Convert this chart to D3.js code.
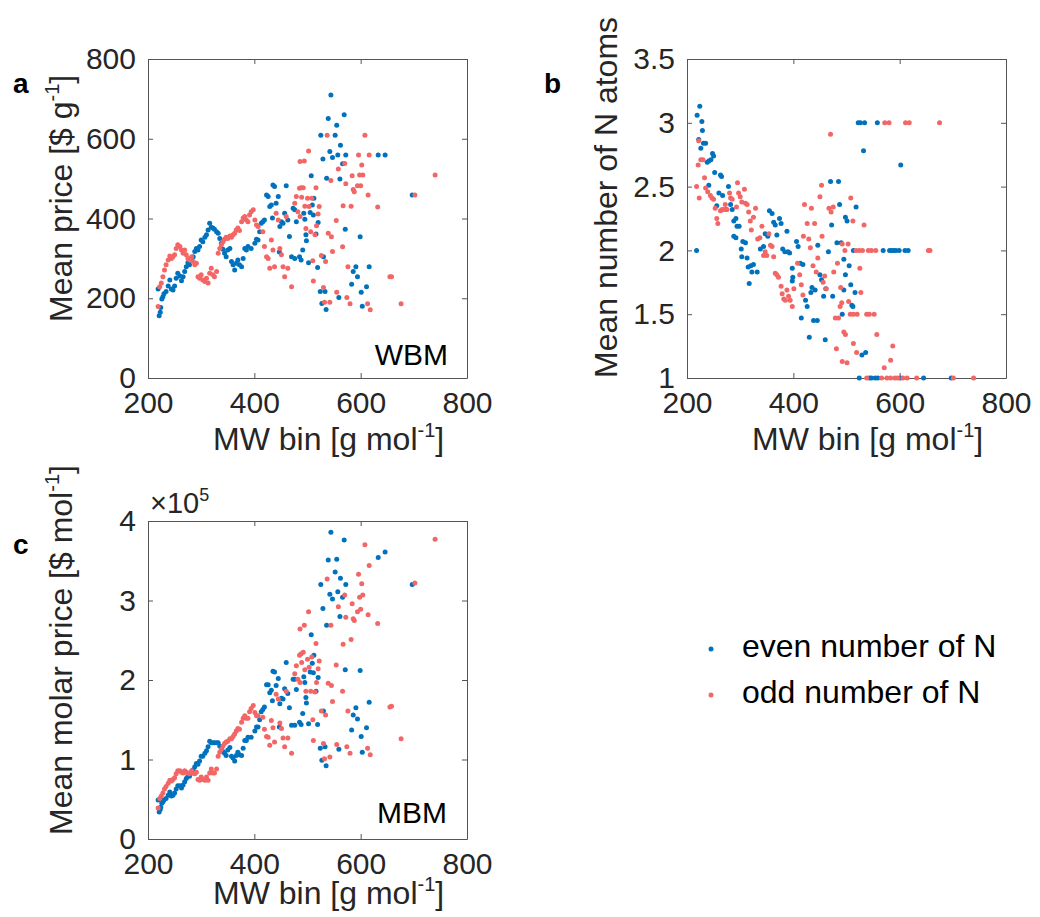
<!DOCTYPE html>
<html><head><meta charset="utf-8">
<script src="https://cdn.jsdelivr.net/npm/d3@7"></script>
<style>
body{margin:0;background:#fff;}
svg{font-family:"Liberation Sans",Arial,Helvetica,sans-serif;}
</style>
</head><body>
<svg id="fig" width="1040" height="917"></svg>
<script>
// ---------- data ----------
const xTicks = [200, 400, 600, 800];
const priceTicks = [0, 200, 400, 600, 800];
const nTicks = [1, 1.5, 2, 2.5, 3, 3.5];
const molarTicks = [0, 1, 2, 3, 4];
const seriesNames = ["even number of N", "odd number of N"];

// panels a & c: MW bins (g/mol), mean price ($/g), mean molar price (x1e5 $/mol)
const mwEven = [221,223,224,219,226,228,230,234,238,241,244,247,250,253,256,260,263,266,269,272,275,278,282,285,288,291,294,297,300,303,307,310,313,316,319,322,325,329,332,335,338,341,344,347,350,354,357,360,363,366,369,372,376,379,382,385,388,394,401,404,407,410,413,416,419,423,426,429,432,435,438,441,445,434,448,451,454,457,460,463,466,470,473,476,479,485,488,476,447,
544,539,569,555,525,552,562,542,529,547,557,572,566,633,646,536,561,507,697,571,599,591,616,586,594,583,611,601,524,533,559,527,535,603,519,530,502,491,498,497,516,520,511,505,493,495,509,512];
const priceEven = [156,165,177,223,198,204,211,217,231,246,223,221,231,250,263,256,244,254,267,279,289,284,296,304,317,325,321,330,346,342,353,359,371,388,378,376,373,367,363,350,338,323,313,304,321,325,292,284,271,288,296,284,279,300,325,321,330,325,338,348,346,367,388,392,396,459,455,430,434,484,480,438,455,401,380,392,388,413,482,396,355,304,426,422,392,304,296,300,316,
710,651,660,634,609,609,584,568,549,553,559,559,537,559,559,501,499,507,459,373,354,279,279,267,254,235,229,215,217,217,202,187,172,180,277,304,289,321,344,359,361,390,409,415,413,398,434,451];
const molarEven = [0.34,0.37,0.40,0.49,0.45,0.47,0.49,0.51,0.55,0.59,0.54,0.55,0.58,0.63,0.67,0.67,0.64,0.68,0.72,0.76,0.79,0.79,0.83,0.87,0.91,0.95,0.94,0.98,1.04,1.04,1.08,1.11,1.16,1.23,1.21,1.21,1.21,1.21,1.21,1.17,1.14,1.10,1.08,1.05,1.12,1.15,1.04,1.02,0.98,1.05,1.09,1.06,1.05,1.14,1.24,1.24,1.28,1.28,1.36,1.41,1.41,1.50,1.60,1.63,1.66,1.94,1.94,1.84,1.87,2.11,2.10,1.93,2.02,1.74,1.70,1.77,1.76,1.89,2.22,1.83,1.65,1.43,2.01,2.01,1.88,1.47,1.44,1.43,1.41,
3.86,3.51,3.76,3.52,3.20,3.36,3.28,3.08,2.90,3.02,3.11,3.20,3.04,3.54,3.61,2.69,2.80,2.57,3.20,2.13,2.12,1.65,1.72,1.56,1.51,1.37,1.40,1.29,1.14,1.16,1.13,0.99,0.92,1.09,1.44,1.61,1.45,1.58,1.71,1.78,1.86,2.03,2.09,2.10,2.04,1.97,2.21,2.31];

const mwOdd = [219,222,225,228,231,234,238,241,244,247,250,253,256,260,263,266,269,272,275,278,282,285,288,291,294,297,300,303,307,310,313,316,319,322,325,329,332,335,338,341,344,347,350,354,357,360,363,366,369,372,376,379,382,385,388,391,394,398,401,404,407,416,419,423,426,429,432,435,438,441,445,448,451,454,457,460,463,470,476,479,482,485,
486,494,502,488,492,516,489,500,508,495,503,522,520,486,497,517,506,514,510,511,537,608,596,616,570,602,558,584,598,604,740,544,572,594,600,586,588,614,702,567,582,632,554,545,539,566,547,526,534,576,655,658,530,555,574,532,542,580,613,676,618];
const priceOdd = [179,229,238,254,271,284,296,306,300,304,309,325,334,330,321,313,321,309,300,296,304,292,284,288,254,250,259,246,242,250,238,263,275,259,254,267,313,325,334,342,348,353,350,356,353,359,363,371,376,370,392,401,405,396,392,409,417,422,396,384,380,367,330,304,300,275,346,321,279,413,396,325,309,279,254,405,275,229,438,455,417,476,
543,544,569,477,477,477,453,451,451,431,430,430,411,405,375,382,367,359,294,243,609,609,559,559,538,534,524,507,509,509,509,495,487,482,482,473,467,459,459,432,431,429,395,354,363,329,317,307,292,279,254,254,227,215,202,190,190,186,186,186,171];
const molarOdd = [0.39,0.51,0.54,0.58,0.63,0.66,0.70,0.74,0.73,0.75,0.77,0.82,0.86,0.86,0.84,0.83,0.86,0.84,0.83,0.82,0.86,0.83,0.82,0.84,0.75,0.74,0.78,0.75,0.74,0.78,0.74,0.83,0.88,0.83,0.83,0.88,1.04,1.09,1.13,1.17,1.20,1.22,1.23,1.26,1.26,1.29,1.32,1.36,1.39,1.38,1.47,1.52,1.55,1.52,1.52,1.60,1.64,1.68,1.59,1.55,1.55,1.53,1.38,1.29,1.28,1.18,1.49,1.40,1.22,1.82,1.76,1.46,1.39,1.27,1.16,1.86,1.27,1.08,2.08,2.18,2.01,2.31,
2.64,2.69,2.86,2.33,2.35,2.46,2.22,2.26,2.29,2.13,2.16,2.24,2.14,1.97,1.86,1.97,1.86,1.85,1.50,1.24,3.27,3.70,3.33,3.44,3.07,3.21,2.92,2.96,3.04,3.07,3.77,2.69,2.79,2.86,2.89,2.77,2.75,2.82,3.22,2.45,2.51,2.71,2.19,1.93,1.96,1.86,1.73,1.61,1.56,1.61,1.66,1.67,1.20,1.19,1.16,1.01,1.03,1.08,1.14,1.26,1.06];

// panel b: MW bins and mean number of N atoms
const mwEvenB = [218,219,224,228,229,222,226,231,235,238,241,245,248,250,252,263,265,241,256,260,267,274,278,282,285,288,292,294,298,288,292,302,305,310,303,313,315,320,325,322,332,317,338,344,347,352,355,360,363,366,369,374,377,380,384,388,390,393,398,406,409,413,418,399,398,415,423,426,435,433,441,438,445,430,446,450,453,457,461,466,470,485,460,472,474,482,490,487,498,501,495,498,492,495,505,508,512,513,518,
522,526,534,558,532,602,569,581,585,589,593,599,610,616,516,510,529,536,524,543,547,554,559,601,645,697];
const nEven = [2.00,3.06,3.13,3.01,2.94,2.87,2.80,2.84,2.84,2.69,2.70,2.71,2.76,2.74,2.61,2.59,2.58,2.51,2.35,2.45,2.43,2.32,2.50,2.36,2.32,2.23,2.25,2.19,2.19,2.11,2.10,2.01,2.07,2.06,1.95,1.94,1.87,1.88,1.89,1.83,1.83,1.74,2.01,2.03,2.13,2.11,2.31,2.29,2.22,2.20,2.12,2.25,2.21,2.01,1.99,2.15,1.99,1.98,1.86,2.07,2.03,1.90,1.89,1.79,1.76,1.47,1.61,1.56,1.71,1.67,1.69,1.45,1.45,1.32,2.04,1.81,1.77,1.64,1.70,1.99,2.54,2.54,1.30,2.20,1.64,2.06,2.06,2.36,2.26,2.23,1.93,1.81,1.50,1.69,1.88,1.73,1.56,2.00,2.34,
3.00,3.00,3.00,3.00,2.78,2.67,2.00,2.00,2.00,2.00,2.00,2.00,2.00,2.00,1.67,1.57,1.18,1.20,1.00,1.00,1.00,1.00,1.00,1.00,1.00,1.00];
const mwOddB = [222,221,226,230,218,223,233,235,239,244,247,250,253,256,258,263,266,269,272,275,280,282,285,293,295,297,300,303,308,310,313,316,319,321,325,329,333,337,341,344,347,350,354,357,360,363,366,369,372,377,379,382,385,388,391,394,398,401,408,412,415,418,419,421,426,429,432,434,437,440,443,446,450,453,454,456,459,462,467,470,471,475,476,479,481,483,485,488,492,495,498,492,501,508,504,512,513,
572,580,611,618,675,533,503,497,518,524,530,541,547,555,654,657,525,489,491,527,507,513,520,538,543,552,519,557,587,583,571,538,566,576,583,591,596,606,614,632,701,739];
const nOdd = [2.86,2.67,2.71,2.71,2.50,2.41,2.57,2.49,2.46,2.43,2.41,2.40,2.33,2.25,2.21,2.31,2.32,2.32,2.36,2.32,2.45,2.41,2.40,2.34,2.53,2.45,2.42,2.38,2.48,2.37,2.36,2.30,2.23,2.16,2.26,2.33,2.09,2.10,2.19,1.96,1.99,1.96,2.13,2.04,2.03,1.95,1.82,1.81,1.79,1.72,1.66,1.62,1.61,1.69,1.64,1.61,1.56,1.70,1.90,1.81,1.73,1.65,2.11,2.36,2.21,2.09,2.02,2.33,1.88,2.21,1.83,1.94,2.42,2.51,2.11,1.75,1.80,1.70,2.33,2.91,2.30,2.34,1.83,1.47,1.23,1.90,1.47,1.56,2.05,1.36,1.34,1.13,1.12,2.41,1.60,2.23,1.27,
3.00,3.00,3.00,3.00,3.00,2.20,2.05,2.00,2.00,2.00,2.00,2.00,2.00,2.00,2.00,2.00,1.86,1.71,1.59,1.67,1.50,1.50,1.50,1.50,1.50,1.50,1.20,1.34,1.25,1.14,1.08,1.00,1.00,1.00,1.00,1.00,1.00,1.00,1.00,1.00,1.00,1.00];

// ---------- drawing ----------
const COLORS = ["#0072BD", "#F36666"];
const AXIS = "#555555", TXT = "#262626";
const svg = d3.select("#fig");

function richText(g, parts, size) {
  // parts: [text, isSuperscript]
  parts.forEach(([t, sup], i) => {
    const ts = g.append("tspan").text(t);
    if (sup) ts.attr("font-size", Math.round(size * 0.62)).attr("dy", -size * 0.42);
    else if (i > 0 && parts[i - 1][1]) ts.attr("dy", size * 0.42);
  });
}

function panel(cfg) {
  const x = d3.scaleLinear().domain([200, 800]).range([cfg.left, cfg.left + cfg.w]);
  const y = d3.scaleLinear().domain(cfg.yDomain).range([cfg.top + cfg.h, cfg.top]);
  const g = svg.append("g");

  const styleAxis = sel => {
    sel.select(".domain").attr("stroke", AXIS).attr("stroke-width", 1);
    sel.selectAll(".tick line").attr("stroke", AXIS).attr("stroke-width", 1);
    sel.selectAll(".tick text").attr("fill", TXT).attr("font-size", 30)
      .attr("font-family", '"Liberation Sans",Arial,sans-serif');
  };
  g.append("g").attr("transform", `translate(0,${cfg.top + cfg.h})`)
    .call(d3.axisBottom(x).tickValues(xTicks).tickSizeInner(-5).tickSizeOuter(0).tickPadding(14))
    .call(styleAxis);
  g.append("g").attr("transform", `translate(0,${cfg.top})`)
    .call(d3.axisTop(x).tickValues(xTicks).tickSizeInner(-5).tickSizeOuter(0).tickFormat(""))
    .call(styleAxis);
  g.append("g").attr("transform", `translate(${cfg.left},0)`)
    .call(d3.axisLeft(y).tickValues(cfg.yTicks).tickSizeInner(-5).tickSizeOuter(0).tickPadding(12).tickFormat(d => String(d)))
    .call(styleAxis);
  g.append("g").attr("transform", `translate(${cfg.left + cfg.w},0)`)
    .call(d3.axisRight(y).tickValues(cfg.yTicks).tickSizeInner(-5).tickSizeOuter(0).tickFormat(""))
    .call(styleAxis);
  g.selectAll(".domain").attr("fill", "none");

  cfg.series.forEach((s, k) => {
    g.append("g").selectAll("circle").data(s.xs.map((v, i) => [v, s.ys[i]]))
      .join("circle")
      .attr("cx", d => x(d[0])).attr("cy", d => y(d[1]))
      .attr("r", 2.5).attr("fill", COLORS[k]);
  });

  // axis labels
  const xl = g.append("text").attr("x", cfg.xlab[0]).attr("y", cfg.xlab[1])
    .attr("font-size", 32).attr("fill", TXT);
  richText(xl, [["MW bin [g mol", false], ["-1", true], ["]", false]], 32);
  const yl = g.append("text").attr("transform", `translate(${cfg.ylab[0]},${cfg.ylab[1]}) rotate(-90)`)
    .attr("font-size", 32).attr("fill", TXT);
  richText(yl, cfg.ylabParts, 32);

  g.append("text").attr("x", cfg.letter[0]).attr("y", cfg.letter[1]).text(cfg.letterText)
    .attr("font-size", 28).attr("font-weight", "bold").attr("fill", "#000");
  if (cfg.tag) g.append("text").attr("x", cfg.tag[0]).attr("y", cfg.tag[1]).text(cfg.tagText)
    .attr("text-anchor", "end").attr("font-size", 30).attr("fill", "#000");
  return g;
}

panel({
  left: 148, top: 59, w: 319, h: 319, yDomain: [0, 800], yTicks: priceTicks,
  series: [{ xs: mwEven, ys: priceEven }, { xs: mwOdd, ys: priceOdd }],
  xlab: [213, 450], ylab: [72, 322],
  ylabParts: [["Mean price [$ g", false], ["-1", true], ["]", false]],
  letter: [13, 93], letterText: "a", tag: [448, 365], tagText: "WBM"
});

panel({
  left: 687, top: 59, w: 319, h: 319, yDomain: [1, 3.5], yTicks: nTicks,
  series: [{ xs: mwEvenB, ys: nEven }, { xs: mwOddB, ys: nOdd }],
  xlab: [752, 450], ylab: [617, 378],
  ylabParts: [["Mean number of N atoms", false]],
  letter: [544, 93], letterText: "b"
});

const gc = panel({
  left: 148, top: 521, w: 319, h: 318, yDomain: [0, 4], yTicks: molarTicks,
  series: [{ xs: mwEven, ys: molarEven }, { xs: mwOdd, ys: molarOdd }],
  xlab: [213, 904], ylab: [72, 835],
  ylabParts: [["Mean molar price [$ mol", false], ["-1", true], ["]", false]],
  letter: [13, 554], letterText: "c", tag: [447, 823], tagText: "MBM"
});
const expo = gc.append("text").attr("x", 150).attr("y", 513).attr("font-size", 29).attr("fill", TXT);
richText(expo, [["\u00d710", false], ["5", true]], 29);

// legend
const lg = svg.append("g");
seriesNames.forEach((name, k) => {
  const yy = [657, 703][k];
  lg.append("circle").attr("cx", 711).attr("cy", yy - 8).attr("r", 2.5).attr("fill", COLORS[k]);
  lg.append("text").attr("x", 742).attr("y", yy).text(name).attr("font-size", 32).attr("fill", "#000");
});
</script>
</body></html>
